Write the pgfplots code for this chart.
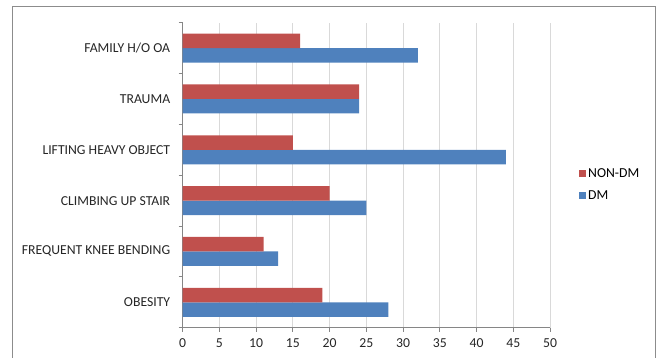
\documentclass[border=0pt]{standalone}
\usepackage{pgfplots}
\pgfplotsset{compat=1.18}
\usepackage{fontspec}
\setmainfont{Carlito}
\definecolor{dmblue}{HTML}{4F81BD}
\definecolor{ndmred}{HTML}{C0504D}
\definecolor{axgray}{HTML}{868686}
\definecolor{grgray}{HTML}{D9D9D9}
\begin{document}
\begin{tikzpicture}[x=1pt,y=1pt]
\useasboundingbox (0,0) rectangle (660,358);
\draw[color=black!45, line width=1.3pt] (12.3,-3) -- (12.3,351.3) -- (655.7,351.3) -- (655.7,-3);
\begin{axis}[
  at={(182.7pt,30.3pt)}, anchor=south west,
  scale only axis, width=367.3pt, height=305pt,
  xbar, xmin=0, xmax=50, ymin=-0.5, ymax=5.5,
  xtick={0,5,...,50},
  ytick={0,1,2,3,4,5},
  yticklabels={OBESITY,FREQUENT KNEE BENDING,CLIMBING UP STAIR,LIFTING HEAVY OBJECT,TRAUMA,FAMILY H/O OA},
  minor ytick={-0.5,0.5,1.5,2.5,3.5,4.5,5.5},
  axis x line*=bottom, axis y line*=left,
  axis line style={axgray, line width=0.8pt, -},
  tick align=outside,
  major tick length=4pt,
  minor tick length=4pt,
  x tick style={axgray, line width=0.8pt},
  major y tick style={draw=none},
  minor y tick style={axgray, line width=0.8pt},
  xmajorgrids, major grid style={grgray, line width=0.8pt},
  tick label style={font=\fontsize{13.7}{16}\selectfont, text=black!85},
  yticklabel style={xshift=-5pt},
  xticklabel style={yshift=-3pt},
  /pgf/number format/assume math mode=true,
  bar width=14.5pt,
  legend style={at={(1,0.4695)}, anchor=west, xshift=29pt, draw=none, fill=none,
    font=\fontsize{13.7}{16}\selectfont, row sep=8pt, inner sep=0pt,
    legend cell align=left},
  legend image code/.code={\fill[#1,draw=none] (0pt,-3.5pt) rectangle (7pt,3.5pt);},
  reverse legend,
]
\addplot[fill=dmblue, draw=none, bar shift=-7.25pt] coordinates {(28,0) (13,1) (25,2) (44,3) (24,4) (32,5)};
\addplot[fill=ndmred, draw=none, bar shift=7.25pt] coordinates {(19,0) (11,1) (20,2) (15,3) (24,4) (16,5)};
\legend{DM,NON-DM}
\end{axis}
\end{tikzpicture}
\end{document}
